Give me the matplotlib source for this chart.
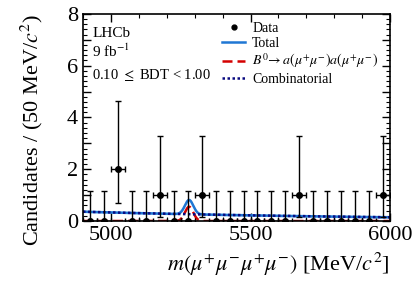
import numpy as np
import matplotlib
matplotlib.use("Agg")
import matplotlib.pyplot as plt
from matplotlib.lines import Line2D
from matplotlib.ticker import MultipleLocator, FuncFormatter

# Data: 50 MeV bins from 4900 to 6000
bin_centres = [4925, 4975, 5025, 5075, 5125, 5175, 5225, 5275, 5325, 5375, 5425,
               5475, 5525, 5575, 5625, 5675, 5725, 5775, 5825, 5875, 5925, 5975]
counts = [0, 0, 2, 0, 0, 1, 0, 0, 1, 0, 0, 0, 0, 0, 0, 1, 0, 0, 0, 0, 0, 1]
# Poisson (ROOT-style) error bars for 0, 1, 2 entries
err_low = {0: 0.0, 1: 0.827, 2: 1.29}
err_up = {0: 1.148, 1: 2.299, 2: 2.637}

# Fit components
comb_at_4900 = 0.36
comb_at_6000 = 0.145
sig_peak = 0.55
sig_mean = 5280.0
sig_width = 15.0
band_halfwidth = 0.035

plt.rcParams['font.family'] = ['Liberation Serif', 'DejaVu Serif']
plt.rcParams['mathtext.fontset'] = 'stix'

fig = plt.figure(figsize=(4.15, 2.83), dpi=100)
ax = fig.add_axes([0.2, 0.219, 0.74, 0.732])

x = np.linspace(4900, 6000, 600)
slope = np.log(comb_at_6000 / comb_at_4900) / 1100.0
comb = comb_at_4900 * np.exp(slope * (x - 4900))
sig = sig_peak * np.exp(-0.5 * ((x - sig_mean) / sig_width) ** 2)
total = comb + sig

ax.fill_between(x, total - band_halfwidth, total + band_halfwidth, color='#a8cdf0', lw=0)
l_tot, = ax.plot(x, total, color='#1f77d4', lw=1.8)
l_sig, = ax.plot(x, sig, color='#d40000', lw=1.8, ls=(0, (4, 2)))
l_comb, = ax.plot(x, comb, color='#0a0a80', lw=1.8, ls=(0, (1, 1)))

lo = [err_low[c] for c in counts]
hi = [err_up[c] for c in counts]
ax.errorbar(bin_centres, counts, yerr=[lo, hi], xerr=25, fmt='o', color='black',
            ms=4, lw=1.0, capsize=2, capthick=1.0, zorder=5)

ax.set_xlim(4900, 6000)
ax.set_ylim(0, 8)
ax.xaxis.set_major_locator(MultipleLocator(500))
ax.xaxis.set_minor_locator(MultipleLocator(100))
ax.yaxis.set_major_locator(MultipleLocator(1))
ax.yaxis.set_minor_locator(MultipleLocator(0.2))
ax.yaxis.set_major_formatter(FuncFormatter(lambda v, p: f"{int(v)}" if int(v) % 2 == 0 else ""))
ax.tick_params(which='both', direction='in', top=True, right=True, labelsize=16)
ax.tick_params(which='major', length=6, width=1)
ax.tick_params(which='minor', length=3, width=0.8)
for s in ax.spines.values():
    s.set_linewidth(1.2)

ax.set_xlabel(r'$m(\mu^{+}\mu^{-}\mu^{+}\mu^{-})$ [MeV/$c^2$]', fontsize=16, loc='right')
ax.set_ylabel(r'Candidates / (50 MeV/$c^2$)', fontsize=16, loc='top', labelpad=16)

ax.text(0.03, 0.935, 'LHCb', transform=ax.transAxes, fontsize=11, va='top')
ax.text(0.03, 0.86, r'9 fb$^{-1}$', transform=ax.transAxes, fontsize=11, va='top')
ax.text(0.03, 0.705, r'0.10 $\leq$ BDT < 1.00', transform=ax.transAxes, fontsize=10.5, va='center')

data_handle = Line2D([], [], ls='none', marker='o', color='black', ms=3.5)
ax.legend([data_handle, l_tot, l_sig, l_comb],
          ['Data', 'Total',
           r'$B^0\!\rightarrow a(\mu^{+}\mu^{-})a(\mu^{+}\mu^{-})$', 'Combinatorial'],
          loc='upper left', bbox_to_anchor=(0.42, 1.01), frameon=False, fontsize=10,
          handlelength=1.7, labelspacing=0.15, handletextpad=0.5, borderaxespad=0.3)

fig.savefig('out.png', dpi=100)
